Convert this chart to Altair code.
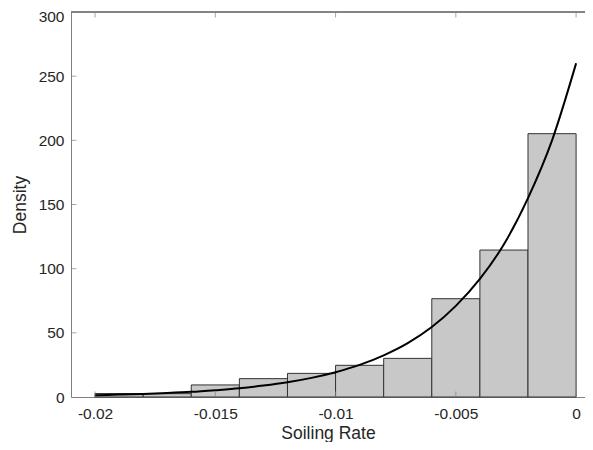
import altair as alt
import pandas as pd

# Histogram bins (Soiling Rate) and density heights
bin_start = [-0.020, -0.018, -0.016, -0.014, -0.012, -0.010, -0.008, -0.006, -0.004, -0.002]
bin_end = [-0.018, -0.016, -0.014, -0.012, -0.010, -0.008, -0.006, -0.004, -0.002, 0.000]
density = [2.7, 2.6, 9.4, 14.3, 18.4, 24.7, 30.1, 76.6, 114.5, 205.2]

# Fitted density curve
curve_x = [-0.020, -0.019, -0.018, -0.017, -0.016, -0.015, -0.014, -0.013, -0.012, -0.011,
           -0.010, -0.009, -0.008, -0.007, -0.006, -0.005, -0.004, -0.003, -0.002, -0.001, 0.000]
curve_y = [1.4, 1.9, 2.4, 3.1, 4.0, 5.3, 6.8, 8.9, 11.5, 14.9,
           19.3, 25.0, 32.5, 42.0, 54.5, 71.0, 92.0, 119.0, 155.0, 200.0, 260.0]

x_ticks = [-0.02, -0.015, -0.01, -0.005, 0]
y_ticks = [0, 50, 100, 150, 200, 250, 300]

W, H = 514, 385
AXIS = "#808080"
TXT = "#262626"
FONT = "Liberation Sans"

bars_df = pd.DataFrame({"x0": bin_start, "x1": bin_end, "d": density, "z": [0] * len(density)})
curve_df = pd.DataFrame({"x": curve_x, "y": curve_y})
xt_df = pd.DataFrame({"t": x_ticks})
yt_df = pd.DataFrame({"t": y_ticks[1:-1]})

xscale = alt.Scale(domain=[-0.021, 0.00037], nice=False, zero=False)
yscale = alt.Scale(domain=[0, 300], nice=False)

xaxis = alt.Axis(values=x_ticks, ticks=False, grid=False, domainColor=AXIS,
                 labelExpr="datum.value == 0 ? '0' : '-' + format(-datum.value, '~g')",
                 labelFont=FONT, labelFontSize=15.5, labelColor=TXT, labelPadding=9,
                 title="Soiling Rate", titleFont=FONT, titleFontSize=17.5,
                 titleFontWeight="normal", titleColor=TXT,
                 titleBaseline="alphabetic", titleY=41)
yaxis = alt.Axis(values=y_ticks, ticks=False, grid=False, domainColor=AXIS,
                 labelFont=FONT, labelFontSize=15.5, labelColor=TXT, labelPadding=7,
                 labelBound=False, labelFlush=False,
                 labelOffset=alt.condition("datum.value == 300", alt.value(4), alt.value(0)),
                 title="Density", titleFont=FONT, titleFontSize=17.5,
                 titleFontWeight="normal", titleColor=TXT, titlePadding=9)

bars = alt.Chart(bars_df).mark_bar(fill="#c8c8c8", stroke="#333333", strokeWidth=1).encode(
    x=alt.X("x0:Q", scale=xscale, axis=xaxis),
    x2="x1:Q",
    y=alt.Y("d:Q", scale=yscale, axis=yaxis),
    y2="z:Q",
)

curve = alt.Chart(curve_df).mark_line(color="black", strokeWidth=2, interpolate="monotone").encode(
    x=alt.X("x:Q", scale=xscale),
    y=alt.Y("y:Q", scale=yscale),
)

bottom_ticks = alt.Chart(xt_df).mark_tick(orient="vertical", size=5.5, thickness=1, color=AXIS).encode(
    x=alt.X("t:Q", scale=xscale), y=alt.value(H - 2.75))
top_ticks = alt.Chart(xt_df).mark_tick(orient="vertical", size=5.5, thickness=1, color=AXIS).encode(
    x=alt.X("t:Q", scale=xscale), y=alt.value(2.75))
left_ticks = alt.Chart(yt_df).mark_tick(orient="horizontal", size=5.5, thickness=1, color=AXIS).encode(
    y=alt.Y("t:Q", scale=yscale), x=alt.value(2.75))
top_line = alt.Chart(xt_df).mark_rule(color=AXIS, strokeWidth=1).encode(
    x=alt.value(0), x2=alt.value(W), y=alt.value(0))

chart = alt.layer(bars, curve, bottom_ticks, top_ticks, left_ticks, top_line).properties(
    width=W, height=H,
    autosize=alt.AutoSizeParams(type="none"),
    padding={"left": 63, "top": 4, "right": 0, "bottom": 45},
).configure_view(stroke=None).configure(background="white")

chart.save("out.html", embed_options={"renderer": "svg", "actions": False})
